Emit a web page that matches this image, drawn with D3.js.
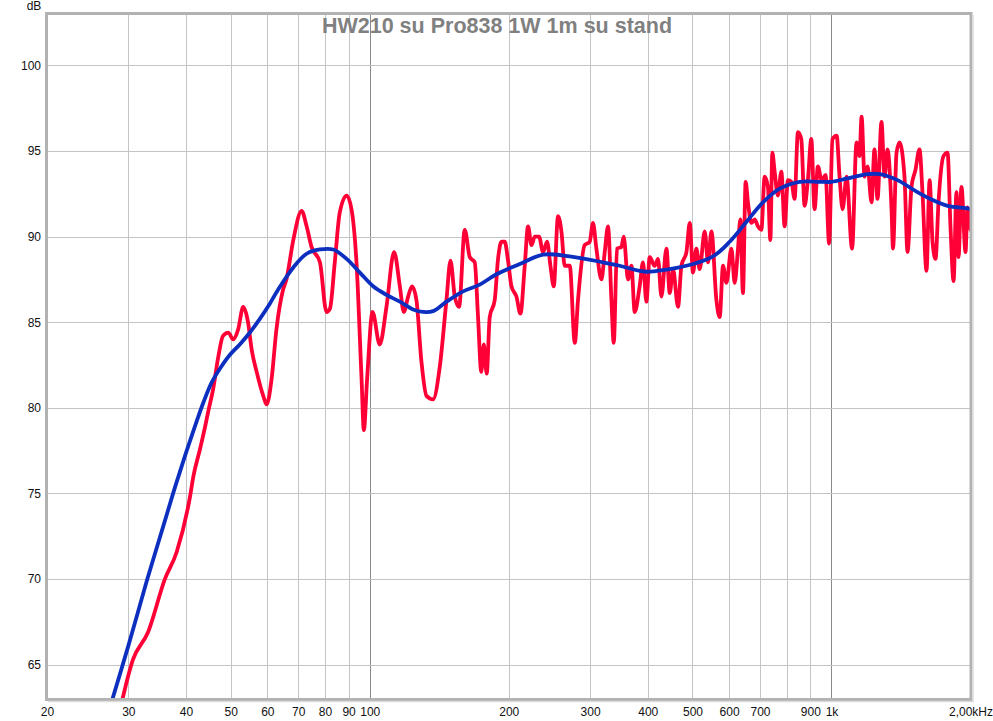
<!DOCTYPE html>
<html>
<head>
<meta charset="utf-8">
<script src="https://cdn.jsdelivr.net/npm/d3@7"></script>
<style>
  html, body { margin: 0; padding: 0; background: #ffffff; }
  svg { display: block; }
  text { font-family: Arial, "Liberation Sans", sans-serif; }
</style>
</head>
<body>
<svg id="chart" width="993" height="721"></svg>
<script>
// ---------- DATA ----------
const title = "HW210 su Pro838 1W 1m su stand";
const yUnit = "dB";

const xGridFreqs = [20, 30, 40, 50, 60, 70, 80, 90, 100, 200, 300, 400, 500, 600, 700, 800, 900, 1000, 2000];
const xMajorFreqs = [100, 1000];
const xTickFreqs  = [20, 30, 40, 50, 60, 70, 80, 90, 100, 200, 300, 400, 500, 600, 700, 900, 1000, 2000];
const xTickLabels = ["20", "30", "40", "50", "60", "70", "80", "90", "100", "200", "300", "400", "500", "600", "700", "900", "1k", "2,00kHz"];
const yTicks = [65, 70, 75, 80, 85, 90, 95, 100];

// Measured response (red)
const redFreq = [28.8,30.7,33.1,36.0,38.2,40.8,41.5,42.9,44.0,44.7,45.8,47.0,48.1,49.4,50.6,51.9,53.2,54.5,55.5,56.9,
58.8,59.8,61.3,62.8,64.9,66.0,68.3,71.2,73.0,74.8,78.0,80.6,82.0,84.0,86.1,89.1,91.3,93.6,96.0,97.1,98.7,101.4,105.1,108.7,112.9,
116.2,118.5,121.1,123.5,126.2,129.4,132.7,137.1,141.8,146.6,149.6,152.8,156.1,160.6,164.7,168.8,171.6,174.4,176.6,179.2,
181.9,186.5,189.6,192.9,196.0,199.3,202.7,207.8,212.0,216.6,220.2,224.0,227.7,232.6,237.3,242.1,246.2,250.3,255.7,260.1,
264.4,271.1,278.0,282.5,292.0,299.4,304.4,309.6,317.5,322.8,328.1,333.7,337.6,343.2,350.8,354.8,362.5,368.7,374.8,384.2,
390.6,397.3,403.9,414.0,421.0,428.2,439.0,446.4,453.7,465.2,473.1,485.1,493.2,501.3,509.8,518.2,531.4,540.3,549.5,563.3,
572.6,582.2,592.1,607.0,617.1,627.3,634.8,643.0,651.8,659.3,670.5,681.7,692.9,704.8,716.5,728.4,737.2,744.5,753.1,765.5,
778.7,791.6,804.7,818.6,831.9,845.8,860.1,874.4,889.0,904.2,919.1,934.4,951.8,970.9,988.0,1005,1026,1041,1057,1078,
1108,1133,1150,1162,1179,1197,1221,1239,1258,1283,1303,1322,1349,1359,1383,1404,1439,1461,1490,1520,
1551,1574,1606,1631,1655,1680,1705,1748,1784,1810,1838,1865,1884,1912,1951,1970,2000];
const redDb = [62.4,65.3,66.9,70.0,71.6,74.8,76.0,77.6,78.9,79.8,81.1,83.0,84.2,84.4,84.0,84.6,85.9,85.0,83.4,82.1,
80.7,80.2,81.7,84.6,86.9,87.5,89.8,91.5,90.6,89.4,88.5,85.6,85.8,88.5,91.4,92.4,91.6,88.5,81.7,78.7,81.7,85.6,83.7,85.9,89.1,
87.1,85.6,86.5,87.1,86.3,82.7,80.7,80.5,82.4,86.3,88.6,86.5,85.9,90.4,88.8,88.5,85.3,82.1,83.7,82.0,
85.3,86.3,88.7,89.7,89.7,88.6,87.1,86.5,85.5,88.3,90.6,89.5,90.0,90.0,89.1,89.7,88.3,87.1,91.2,90.3,
88.3,88.3,83.8,86.3,89.5,89.7,90.8,89.3,87.5,89.1,90.6,86.3,83.8,89.3,89.4,90.0,87.5,88.3,85.6,87.1,
88.5,86.2,88.8,88.3,88.7,86.5,89.3,86.7,88.1,85.9,88.3,89.1,90.8,87.9,89.3,88.1,90.3,88.5,90.3,86.3,
85.3,88.3,87.3,89.3,87.3,89.3,91.0,86.7,93.2,92.0,90.8,91.0,90.6,90.4,93.5,92.9,89.8,94.9,93.8,92.4,
93.8,90.6,93.3,93.2,92.2,96.1,95.7,91.8,93.3,95.7,91.6,94.1,93.3,93.6,89.6,95.7,95.9,93.5,91.6,93.5,
89.3,95.5,94.7,97.0,93.5,94.1,92.0,95.1,92.2,96.7,93.5,95.1,91.6,89.3,94.9,95.5,93.5,89.1,92.9,93.9,
95.1,92.6,88.0,93.3,89.7,88.7,92.0,94.7,94.9,90.6,87.4,92.6,88.8,92.9,89.1,91.7,90.4];

// Smoothed response (blue)
const blueFreq = [27.3,30.0,32.9,36.0,37.9,39.8,41.8,43.6,45.5,47.4,49.8,52.3,55.0,57.8,60.8,63.3,68.3,73.0,78.0,83.3,
89.1,95.2,101.7,108.7,116.2,124.1,130.5,137.1,146.6,159.3,173.1,188.1,211.3,237.3,271.1,320.0,347.8,384.2,397.3,485.1,
553.9,601.8,653.8,710.5,772.3,853.2,942.4,1000,1083,1197,1271,1390,1513,1638,1784,1970,2000];
const blueDb = [62.4,66.1,69.9,73.4,75.4,77.2,78.9,80.3,81.5,82.3,83.1,83.7,84.4,85.2,86.1,86.9,88.2,89.0,89.25,89.25,
88.7,87.9,87.1,86.6,86.2,85.75,85.6,85.65,86.2,86.8,87.2,87.8,88.4,88.95,88.85,88.5,88.3,88.0,87.95,88.3,
88.85,89.7,90.85,92.0,92.8,93.2,93.2,93.2,93.4,93.65,93.65,93.3,92.7,92.2,91.8,91.65,91.6];

// ---------- CHART ----------
const W = 993, H = 721;
const plot = { left: 47, right: 970.5, top: 14, bottom: 699 };

const x = d3.scaleLog().domain([20, 2000]).range([plot.left, plot.right]);
const y = d3.scaleLinear().domain([63, 103]).range([plot.bottom, plot.top]);

const svg = d3.select("#chart");
svg.append("rect").attr("width", W).attr("height", H).attr("fill", "#ffffff");

svg.append("defs").append("clipPath").attr("id", "clip")
  .append("rect").attr("x", plot.left).attr("y", plot.top)
  .attr("width", plot.right - plot.left).attr("height", plot.bottom - plot.top);

// grid
const grid = svg.append("g");
grid.selectAll("line.v").data(xGridFreqs).enter().append("line")
  .attr("x1", d => Math.round(x(d)) + 0.5).attr("x2", d => Math.round(x(d)) + 0.5)
  .attr("y1", plot.top).attr("y2", plot.bottom)
  .attr("stroke", d => xMajorFreqs.includes(d) ? "#8a8a8a" : "#c4c4c4")
  .attr("stroke-width", 1);
grid.selectAll("line.h").data(yTicks).enter().append("line")
  .attr("x1", plot.left).attr("x2", plot.right)
  .attr("y1", d => Math.round(y(d)) + 0.5).attr("y2", d => Math.round(y(d)) + 0.5)
  .attr("stroke", "#c4c4c4").attr("stroke-width", 1);

// curves
const redLine = d3.line().x(d => x(d[0])).y(d => y(d[1])).curve(d3.curveMonotoneX);
const blueLine = d3.line().x(d => x(d[0])).y(d => y(d[1])).curve(d3.curveCatmullRom.alpha(0.5));
const redData = redFreq.map((f, i) => [f, redDb[i]]);
const blueData = blueFreq.map((f, i) => [f, blueDb[i]]);

const curves = svg.append("g").attr("clip-path", "url(#clip)");
curves.append("path").datum(redData).attr("d", redLine)
  .attr("fill", "none").attr("stroke", "#ff0036").attr("stroke-width", 3.8)
  .attr("stroke-linejoin", "round").attr("stroke-linecap", "round");
curves.append("path").datum(blueData).attr("d", blueLine)
  .attr("fill", "none").attr("stroke", "#0c2fbf").attr("stroke-width", 3.8)
  .attr("stroke-linejoin", "round").attr("stroke-linecap", "round");

// frame
svg.append("rect")
  .attr("x", plot.left - 0.5).attr("y", plot.top - 0.5)
  .attr("width", plot.right - plot.left + 1).attr("height", plot.bottom - plot.top + 1)
  .attr("fill", "none").attr("stroke", "#b2b2b2").attr("stroke-width", 3);
svg.append("path")
  .attr("d", `M${plot.right + 2.5},${plot.top + 1}V${plot.bottom + 2.5}H${plot.left + 1}`)
  .attr("fill", "none").attr("stroke", "#dcdcdc").attr("stroke-width", 1.5);

// y axis labels
const yAxis = d3.axisLeft(y).tickValues(yTicks).tickSize(0).tickPadding(6);
const gy = svg.append("g").attr("transform", `translate(${plot.left},0)`).call(yAxis);
gy.select(".domain").remove();
gy.selectAll("text").attr("font-size", 12).attr("fill", "#111").attr("font-family", "Arial, 'Liberation Sans', sans-serif");

svg.append("text").attr("x", 34).attr("y", 10).attr("text-anchor", "middle")
  .attr("font-size", 12).attr("fill", "#111").text(yUnit);

// x axis labels
const xAxis = d3.axisBottom(x).tickValues(xTickFreqs)
  .tickFormat((d, i) => xTickLabels[i]).tickSize(0).tickPadding(8);
const gx = svg.append("g").attr("transform", `translate(0,${plot.bottom})`).call(xAxis);
gx.select(".domain").remove();
gx.selectAll("text").attr("font-size", 12).attr("fill", "#111").attr("font-family", "Arial, 'Liberation Sans', sans-serif");

// title
svg.append("text").attr("x", 497).attr("y", 33).attr("text-anchor", "middle")
  .attr("font-size", 21.5).attr("font-weight", "bold").attr("fill", "#808080")
  .text(title);
</script>
</body>
</html>
